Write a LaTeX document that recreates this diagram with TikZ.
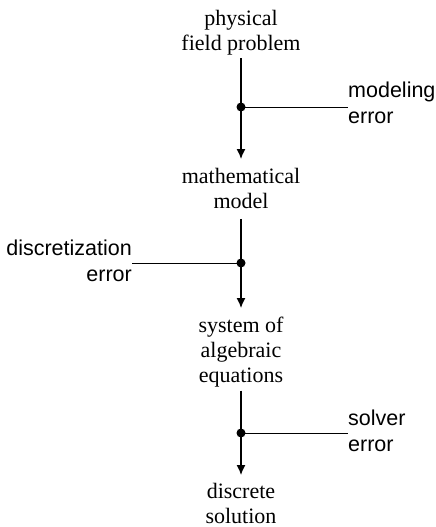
\documentclass[tikz,border=0pt]{standalone}
\usepackage{fontspec}
\setmainfont{Liberation Serif}
\newfontfamily\labfont{Liberation Sans}
\usetikzlibrary{arrows.meta}
\begin{document}
\begin{tikzpicture}[x=1pt,y=-1pt,
  stage/.style={font=\fontsize{22}{25}\selectfont, align=center, inner sep=0pt, anchor=north},
  errlab/.style={font=\labfont\fontsize{21.5}{26}\selectfont, inner sep=0pt},
  flow/.style={line width=1.3pt, -{Latex[length=10pt,width=9pt]}},
  tie/.style={line width=1pt},
  joint/.style={circle, fill, inner sep=0pt, minimum size=9pt}]
\useasboundingbox (0,0) rectangle (436,527);
% stages
\node[stage] (n1) at (241,10) {physical\\field problem};
\node[stage] (n2) at (241,168) {mathematical\\model};
\node[stage] (n3) at (241,317) {system of\\algebraic\\equations};
\node[stage] (n4) at (241,483) {discrete\\solution};
% joints
\node[joint] (j1) at (241,107) {};
\node[joint] (j2) at (241,263) {};
\node[joint] (j3) at (241,433) {};
% error labels
\node[errlab, anchor=north west, align=left] (l1) at (348,82) {modeling\\error};
\node[errlab, anchor=north east, align=right] (l2) at (132,240) {discretization\\error};
\node[errlab, anchor=north west, align=left] (l3) at (348,410) {solver\\error};
% flow arrows
\draw[flow, shorten <=3pt, shorten >=9pt] (n1.south) -- (n2.north);
\draw[flow, shorten <=10pt, shorten >=9pt] (n2.south) -- (n3.north);
\draw[flow, shorten <=3pt, shorten >=8pt] (n3.south) -- (n4.north);
% error ties
\draw[tie] (j1.center) -- (j1.center -| l1.west);
\draw[tie] (j2.center) -- (j2.center -| l2.east);
\draw[tie] (j3.center) -- (j3.center -| l3.west);
\end{tikzpicture}
\end{document}
